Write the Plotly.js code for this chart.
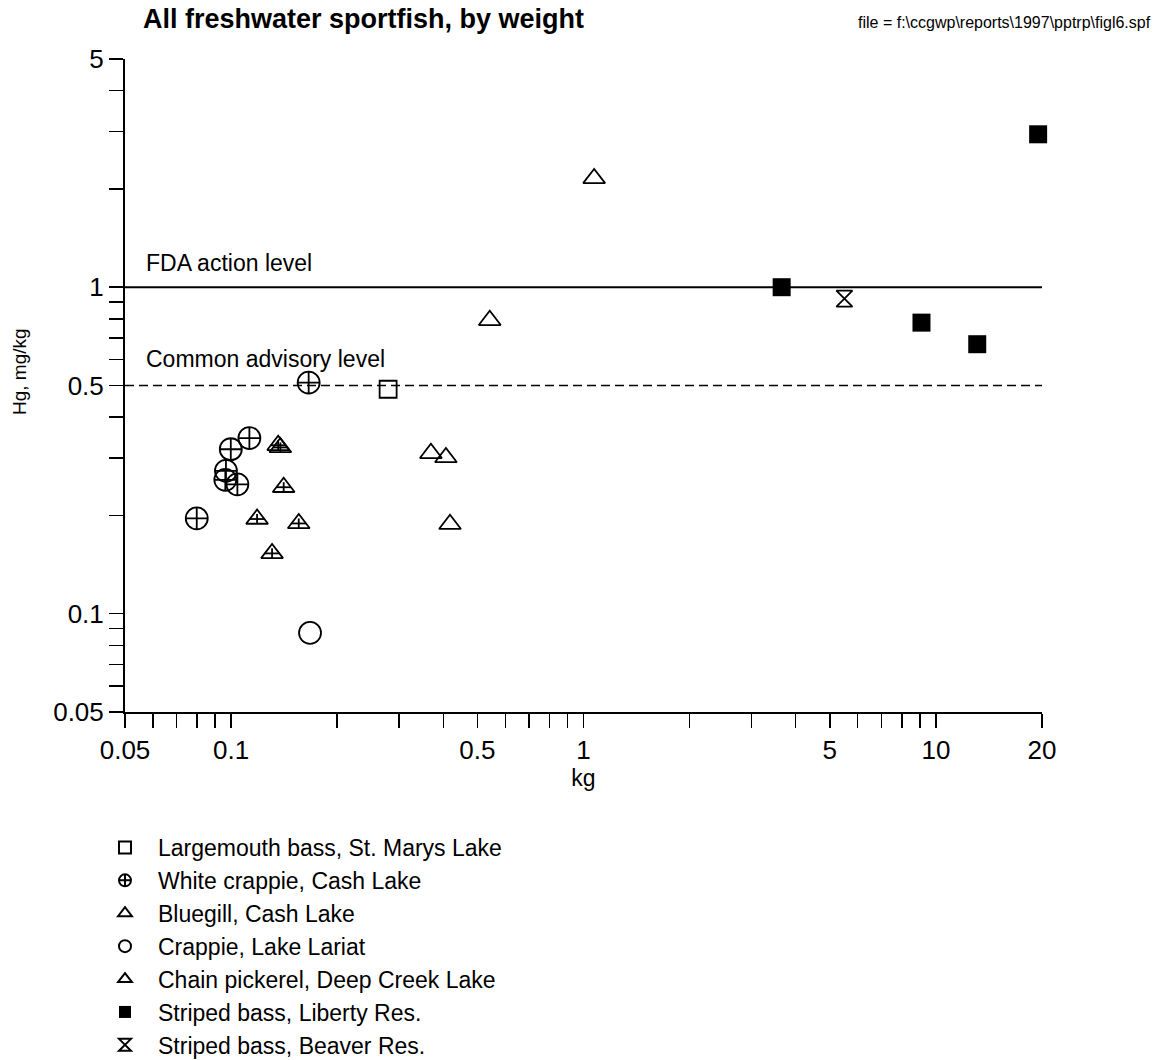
<!DOCTYPE html>
<html>
<head>
<meta charset="utf-8">
<script src="https://cdn.plot.ly/plotly-3.0.1.min.js"></script>
<style>html,body{margin:0;padding:0;background:#fff;}#chart{width:1162px;height:1060px;}</style>
</head>
<body>
<div id="chart"></div>
<script>
// ---- data (kg, Hg mg/kg) ----
const largemouthKg = [0.279];
const largemouthHg = [0.487];
const whiteCrappieKg = [0.166, 0.1127, 0.0998, 0.0967, 0.0963, 0.1042, 0.0799];
const whiteCrappieHg = [0.510, 0.345, 0.319, 0.274, 0.257, 0.249, 0.196];
const bluegillKg = [0.136, 0.138, 0.141, 0.1185, 0.1556, 0.1307];
const bluegillHg = [0.328, 0.323, 0.244, 0.195, 0.189, 0.153];
const crappieLariatKg = [0.1675];
const crappieLariatHg = [0.0874];
const pickerelKg = [0.369, 0.407, 0.418, 1.072, 0.542];
const pickerelHg = [0.310, 0.301, 0.188, 2.154, 0.792];
const libertyKg = [3.65, 9.1, 13.1, 19.5];
const libertyHg = [1.0, 0.779, 0.669, 2.94];
const beaverKg = [5.5];
const beaverHg = [0.923];

const seriesNames = [
  'Largemouth bass, St. Marys Lake',
  'White crappie, Cash Lake',
  'Bluegill, Cash Lake',
  'Crappie, Lake Lariat',
  'Chain pickerel, Deep Creek Lake',
  'Striped bass, Liberty Res.',
  'Striped bass, Beaver Res.'
];

const fdaLevel = 1;
const advisoryLevel = 0.5;

const xTickVals = [0.05,0.06,0.07,0.08,0.09,0.1,0.2,0.3,0.4,0.5,0.6,0.7,0.8,0.9,1,2,3,4,5,6,7,8,9,10,20];
const xTickLabels = ['0.05','','','','','0.1','','','','0.5','','','','','1','','','','5','','','','','10','20'];
const yTickVals = [0.05,0.06,0.07,0.08,0.09,0.1,0.2,0.3,0.4,0.5,0.6,0.7,0.8,0.9,1,2,3,4,5];
const yTickLabels = ['0.05','','','','','0.1','','','','0.5','','','','','1','','','','5'];

// ---- styling ----
const FONT = 'Liberation Sans, Arial, Helvetica, sans-serif';
const K = '#000';
const LW = 1.8;

function tr(name, x, y, symbol, size, filled, extra) {
  return Object.assign({
    type: 'scatter', mode: 'markers', name: name, x: x, y: y, cliponaxis: false,
    marker: {symbol: symbol, size: size, color: K,
             line: {color: K, width: filled ? 0 : LW}},
    hoverinfo: 'x+y+name'
  }, extra || {});
}

const traces = [
  tr(seriesNames[0], largemouthKg, largemouthHg, 'square-open', 17, false),
  tr(seriesNames[1], whiteCrappieKg, whiteCrappieHg, 'circle-cross-open', 22, false),
  tr(seriesNames[2], bluegillKg, bluegillHg, 'triangle-up-open', 19, false, {legendgroup: 'bg'}),
  tr(seriesNames[3], crappieLariatKg, crappieLariatHg, 'circle-open', 22, false),
  tr(seriesNames[4], pickerelKg, pickerelHg, 'triangle-up-open', 19, false),
  tr(seriesNames[5], libertyKg, libertyHg, 'square', 18, true),
  tr(seriesNames[6], beaverKg, beaverHg, 'hourglass-open', 16, false),
  // cross inside the bluegill triangles
  tr(seriesNames[2], bluegillKg, bluegillHg, 'line-ew-open', 10.4, false, {legendgroup: 'bg', showlegend: false}),
  tr(seriesNames[2], bluegillKg, bluegillHg, 'line-ns-open', 7.2, false, {legendgroup: 'bg', showlegend: false})
];

const axisCommon = {
  type: 'log', tickmode: 'array', ticks: 'outside', ticklen: 14, tickwidth: 1.5, tickcolor: K,
  showline: true, linecolor: K, linewidth: 2, showgrid: false, zeroline: false,
  tickfont: {family: FONT, size: 26, color: K}, mirror: false, fixedrange: true
};

const layout = {
  width: 1162, height: 1060,
  margin: {l: 125, r: 120, t: 59, b: 348, pad: 0, autoexpand: false},
  paper_bgcolor: '#fff', plot_bgcolor: '#fff',
  font: {family: FONT, color: K},
  title: {text: '<b>All freshwater sportfish, by weight</b>', font: {family: FONT, size: 27, color: K},
          xref: 'container', x: 143/1162, xanchor: 'left', yref: 'container', y: 1 - 19/1060, yanchor: 'middle'},
  xaxis: Object.assign({}, axisCommon, {
    range: [Math.log10(0.05), Math.log10(20)], tickvals: xTickVals, ticktext: xTickLabels,
    title: {text: 'kg', font: {family: FONT, size: 23, color: K}, standoff: 6}
  }),
  yaxis: Object.assign({}, axisCommon, {
    range: [Math.log10(0.05), Math.log10(5)], tickvals: yTickVals, ticktext: yTickLabels
  }),
  shapes: [
    {type: 'line', xref: 'paper', x0: 0, x1: 1, yref: 'y', y0: fdaLevel, y1: fdaLevel, layer: 'below',
     line: {color: K, width: 2}},
    {type: 'line', xref: 'paper', x0: 0, x1: 1, yref: 'y', y0: advisoryLevel, y1: advisoryLevel, layer: 'below',
     line: {color: K, width: 1.5, dash: '9px,5px'}}
  ],
  annotations: [
    {text: 'FDA action level', xref: 'paper', x: 19/917, yref: 'paper', y: (712-263)/653, xanchor: 'left', yanchor: 'middle',
     showarrow: false, font: {family: FONT, size: 23, color: K}},
    {text: 'Common advisory level', xref: 'paper', x: 19/917, yref: 'paper', y: (712-359)/653, xanchor: 'left', yanchor: 'middle',
     showarrow: false, font: {family: FONT, size: 23, color: K}},
    {text: 'Hg, mg/kg', xref: 'paper', x: -105/917, yref: 'paper', y: (712-372)/653, xanchor: 'center', yanchor: 'middle',
     textangle: -90, showarrow: false, font: {family: FONT, size: 19, color: K}},
    {text: 'file = f:\\ccgwp\\reports\\1997\\pptrp\\figl6.spf', xref: 'paper', x: (1153-125)/917, yref: 'paper', y: (712-22)/653,
     xanchor: 'right', yanchor: 'middle', showarrow: false, font: {family: FONT, size: 16, color: K}}
  ],
  showlegend: true,
  legend: {
    xref: 'container', yref: 'container', x: 92/1162, y: 1 - 826/1060, xanchor: 'left', yanchor: 'top',
    font: {family: FONT, size: 23, color: K}, itemsizing: 'constant', itemwidth: 56,
    bgcolor: 'rgba(0,0,0,0)', borderwidth: 0, traceorder: 'normal', tracegroupgap: 0
  }
};

Plotly.newPlot('chart', traces, layout, {displayModeBar: false, staticPlot: true});
</script>
</body>
</html>
